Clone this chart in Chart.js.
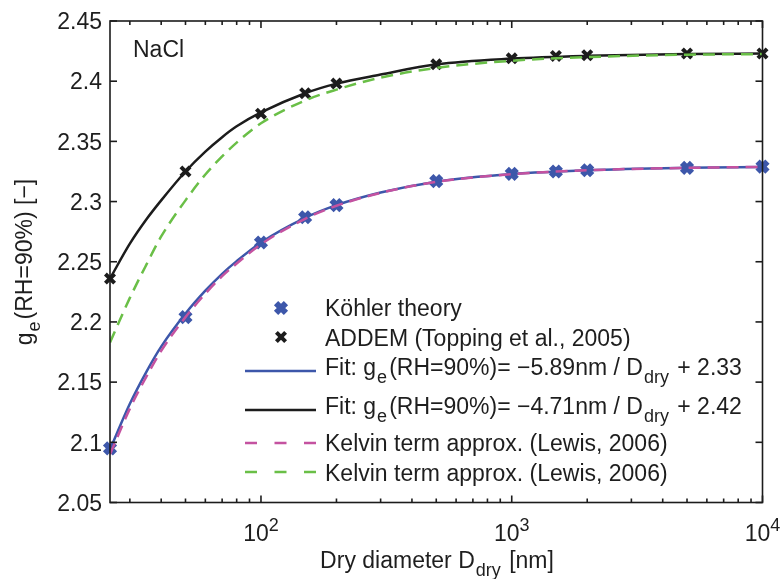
<!DOCTYPE html>
<html>
<head>
<meta charset="utf-8">
<title>NaCl g_e(RH=90%)</title>
<script src="https://cdn.jsdelivr.net/npm/chart.js@4/dist/chart.umd.min.js"></script>
<style>
    html, body { margin: 0; padding: 0; background: #fff; }
    #wrap { width: 780px; height: 579px; }
</style>
</head>
<body>
<div id="wrap"><canvas id="geChart" width="780" height="579"></canvas></div>
<script>
// --- Données ---
const dryDiameters = [25, 50, 100, 150, 200, 500, 1000, 1500, 2000, 5000, 10000];
const kohlerValues = [2.095, 2.204, 2.266, 2.287, 2.297, 2.317, 2.323, 2.325, 2.326, 2.328, 2.329];
const addemValues  = [2.236, 2.325, 2.373, 2.390, 2.398, 2.414, 2.419, 2.421, 2.4215, 2.423, 2.423];

const curveDiameters = [25, 30, 35, 40, 50, 60, 70, 80, 100, 150, 200, 300, 500, 1000, 2000, 5000, 10000];
const fitKohler    = [2.094, 2.132, 2.159, 2.1795, 2.207, 2.226, 2.240, 2.2505, 2.266, 2.2865, 2.297, 2.3075, 2.3165, 2.3228, 2.326, 2.328, 2.3288];
const fitAddem     = [2.236, 2.265, 2.2855, 2.301, 2.325, 2.3415, 2.3535, 2.3625, 2.374, 2.390, 2.398, 2.4055, 2.414, 2.4188, 2.4211, 2.4226, 2.423];
const kelvinKohler = [2.090, 2.128, 2.155, 2.176, 2.204, 2.2235, 2.238, 2.2485, 2.2645, 2.2857, 2.2965, 2.3072, 2.3163, 2.3227, 2.326, 2.328, 2.3288];
const kelvinAddem  = [2.183, 2.220, 2.248, 2.271, 2.301, 2.3225, 2.3375, 2.349, 2.365, 2.384, 2.393, 2.403, 2.411, 2.417, 2.420, 2.422, 2.4225];

const yTickValues = [2.05, 2.1, 2.15, 2.2, 2.25, 2.3, 2.35, 2.4, 2.45];
const yTickLabels = ['2.05', '2.1', '2.15', '2.2', '2.25', '2.3', '2.35', '2.4', '2.45'];
const xMajorTicks = [100, 1000, 10000];
const xTickExponents = ['2', '3', '4'];
const xMinorTicks = [30, 40, 50, 60, 70, 80, 90, 200, 300, 400, 500, 600, 700, 800, 900,
                     2000, 3000, 4000, 5000, 6000, 7000, 8000, 9000];

const COLORS = {
    blue: '#3d57aa',
    black: '#1c1c1c',
    magenta: '#c452a0',
    green: '#6abf47',
    text: '#1e1e1e'
};

const FONT = '"Liberation Sans", Arial, sans-serif';
const BIG = 23;
const SMALL = 18;

// légende : type de symbole, couleur, morceaux de texte
const legendItems = [
    { kind: 'marker', color: COLORS.blue, r: 7, w: 6, parts: [{ t: 'Köhler theory' }] },
    { kind: 'marker', color: COLORS.black, r: 6.5, w: 4, parts: [{ t: 'ADDEM (Topping et al., 2005)' }] },
    { kind: 'line', color: COLORS.blue, parts: [{ t: 'Fit: g' }, { t: 'e', sub: true }, { t: '(RH=90%)= −5.89nm / D' }, { t: 'dry', sub: true }, { t: ' + 2.33' }] },
    { kind: 'line', color: COLORS.black, parts: [{ t: 'Fit: g' }, { t: 'e', sub: true }, { t: '(RH=90%)= −4.71nm / D' }, { t: 'dry', sub: true }, { t: ' + 2.42' }] },
    { kind: 'dash', color: COLORS.magenta, parts: [{ t: 'Kelvin term approx. (Lewis, 2006)' }] },
    { kind: 'dash', color: COLORS.green, parts: [{ t: 'Kelvin term approx. (Lewis, 2006)' }] }
];
const legendRowsY = [308, 338, 367, 406, 443, 473];
const legendSymbolY = [308, 337, 371, 410, 443, 472];

// --- Texte avec indices / exposants ---
function partFont(p) {
    return `${(p.sub || p.sup) ? SMALL : BIG}px ${FONT}`;
}

function partWidth(ctx, p) {
    ctx.font = partFont(p);
    return ctx.measureText(p.t).width + (p.sub ? 3 : 0);
}

function drawRich(ctx, parts, x, y, align) {
    let cx = x;
    if (align === 'center') cx -= parts.reduce((acc, p) => acc + partWidth(ctx, p), 0) / 2;
    ctx.textAlign = 'left';
    ctx.textBaseline = 'alphabetic';
    parts.forEach(p => {
        ctx.font = partFont(p);
        const dy = p.sub ? 8 : (p.sup ? -10 : 0);
        ctx.fillText(p.t, cx + (p.sub ? 1 : 0), y + dy);
        cx += partWidth(ctx, p);
    });
}

function drawCross(ctx, x, y, r, w, color) {
    const d = r * Math.SQRT1_2;
    ctx.save();
    ctx.strokeStyle = color;
    ctx.lineWidth = w;
    ctx.beginPath();
    ctx.moveTo(x - d, y - d); ctx.lineTo(x + d, y + d);
    ctx.moveTo(x - d, y + d); ctx.lineTo(x + d, y - d);
    ctx.stroke();
    ctx.restore();
}

function line(ctx, x1, y1, x2, y2) {
    ctx.beginPath();
    ctx.moveTo(x1, y1);
    ctx.lineTo(x2, y2);
    ctx.stroke();
}

// --- Cadre, graduations, titres et légende ---
const axesDecor = {
    id: 'axesDecor',
    beforeDraw(chart) {
        const ctx = chart.ctx;
        ctx.save();
        ctx.fillStyle = '#fff';
        ctx.fillRect(0, 0, chart.width, chart.height);
        ctx.restore();
    },
    afterDraw(chart) {
        const { ctx, chartArea: a, scales: { x, y } } = chart;
        ctx.save();
        ctx.strokeStyle = COLORS.black;
        ctx.lineWidth = 1.6;
        ctx.strokeRect(a.left, a.top, a.right - a.left, a.bottom - a.top);

        yTickValues.forEach(v => {
            const py = y.getPixelForValue(v);
            line(ctx, a.left, py, a.left + 7, py);
            line(ctx, a.right, py, a.right - 7, py);
        });
        xMajorTicks.forEach(v => {
            const px = x.getPixelForValue(v);
            line(ctx, px, a.bottom, px, a.bottom - 7);
            line(ctx, px, a.top, px, a.top + 7);
        });
        xMinorTicks.forEach(v => {
            const px = x.getPixelForValue(v);
            line(ctx, px, a.bottom, px, a.bottom - 4);
            line(ctx, px, a.top, px, a.top + 4);
        });

        ctx.fillStyle = COLORS.text;
        ctx.font = `${BIG}px ${FONT}`;
        ctx.textAlign = 'right';
        ctx.textBaseline = 'alphabetic';
        yTickValues.forEach((v, i) => {
            ctx.fillText(yTickLabels[i], a.left - 8, y.getPixelForValue(v) + 8.3);
        });

        xMajorTicks.forEach((v, i) => {
            const px = x.getPixelForValue(v);
            drawRich(ctx, [{ t: '10' }, { t: xTickExponents[i], sup: true }], px, 541, 'center');
        });

        // titres des axes
        drawRich(ctx, [{ t: 'Dry diameter D' }, { t: 'dry', sub: true }, { t: ' [nm]' }], 437, 568, 'center');
        ctx.save();
        ctx.translate(32, 262);
        ctx.rotate(-Math.PI / 2);
        drawRich(ctx, [{ t: 'g' }, { t: 'e', sub: true }, { t: '(RH=90%) [−]' }], 0, 0, 'center');
        ctx.restore();

        drawRich(ctx, [{ t: 'NaCl' }], 133, 57, 'left');

        // légende
        legendItems.forEach((item, i) => {
            const sy = legendSymbolY[i];
            if (item.kind === 'marker') {
                drawCross(ctx, 281, sy, item.r, item.w, item.color);
            } else {
                ctx.save();
                ctx.strokeStyle = item.color;
                ctx.lineWidth = 2.5;
                if (item.kind === 'dash') ctx.setLineDash([12, 17.5]);
                line(ctx, 245, sy, 316, sy);
                ctx.restore();
            }
            ctx.fillStyle = COLORS.text;
            drawRich(ctx, item.parts, 325, legendRowsY[i] + 8.3, 'left');
        });
        ctx.restore();
    }
};

const toPoints = (xs, ys) => xs.map((v, i) => ({ x: v, y: ys[i] }));

const curveStyle = (color, dashed) => ({
    type: 'line',
    borderColor: color,
    backgroundColor: color,
    borderWidth: 2.5,
    borderDash: dashed ? [12, 7] : [],
    pointRadius: 0,
    cubicInterpolationMode: 'monotone',
    fill: false
});

new Chart(document.getElementById('geChart'), {
    type: 'scatter',
    data: {
        datasets: [
            { label: 'Kelvin term approx. (Lewis, 2006)', data: toPoints(curveDiameters, kelvinAddem), order: 0, ...curveStyle(COLORS.green, true) },
            { label: 'Kelvin term approx. (Lewis, 2006)', data: toPoints(curveDiameters, kelvinKohler), order: 0, ...curveStyle(COLORS.magenta, true) },
            { label: 'Fit ADDEM', data: toPoints(curveDiameters, fitAddem), order: 1, ...curveStyle(COLORS.black, false) },
            { label: 'Fit Köhler', data: toPoints(curveDiameters, fitKohler), order: 1, ...curveStyle(COLORS.blue, false) },
            {
                label: 'ADDEM (Topping et al., 2005)',
                data: toPoints(dryDiameters, addemValues),
                order: 2,
                showLine: false,
                pointStyle: 'crossRot',
                pointRadius: 6.5,
                pointBorderWidth: 4,
                borderColor: COLORS.black,
                backgroundColor: COLORS.black,
                clip: false
            },
            {
                label: 'Köhler theory',
                data: toPoints(dryDiameters, kohlerValues),
                order: 2,
                showLine: false,
                pointStyle: 'crossRot',
                pointRadius: 7,
                pointBorderWidth: 6,
                borderColor: COLORS.blue,
                backgroundColor: COLORS.blue,
                clip: false
            }
        ]
    },
    options: {
        responsive: false,
        devicePixelRatio: 1,
        animation: false,
        layout: { padding: { left: 110, right: 17.5, top: 21, bottom: 76.5 } },
        plugins: {
            legend: { display: false },
            tooltip: { enabled: false }
        },
        scales: {
            x: { type: 'logarithmic', min: 25, max: 10000, display: false },
            y: { type: 'linear', min: 2.05, max: 2.45, display: false }
        }
    },
    plugins: [axesDecor]
});
</script>
</body>
</html>
